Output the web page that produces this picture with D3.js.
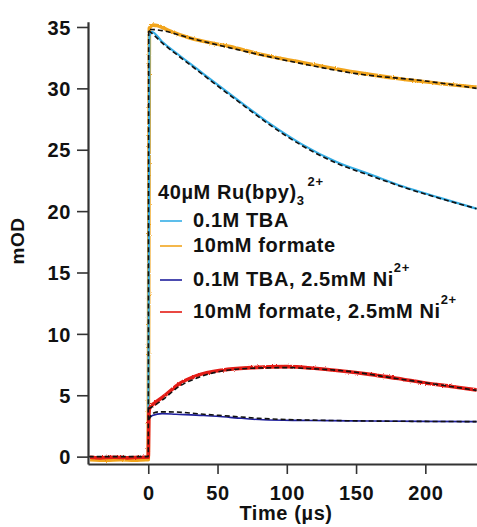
<!DOCTYPE html>
<html>
<head>
<meta charset="utf-8">
<script src="https://cdn.jsdelivr.net/npm/d3@7/dist/d3.min.js"></script>
<style>
  html, body { margin: 0; padding: 0; background: #fff; }
  svg { display: block; }
  text { font-family: "Liberation Sans", Arial, Helvetica, sans-serif; font-weight: bold; fill: #111; letter-spacing: 0.6px; }
</style>
</head>
<body>
<svg id="chart" width="477" height="527"></svg>
<script>
// Transient absorption of 40 µM Ru(bpy)3 2+ — time in µs, signal in mOD.

// 0.1M TBA
const tbaTime  = [0, 0.8, 2.5, 10, 20, 35, 50, 70, 88, 110, 136, 160, 184, 210, 237];
const tbaValue = [0, 34.2, 34.6, 33.8, 32.9, 31.6, 30.3, 28.6, 27.1, 25.5, 24.0, 23.0, 22.0, 21.1, 20.2];

// 10mM formate
const formateTime  = [-42, -30, -20, -10, -1, 0, 0.8, 3.5, 7, 15, 30, 59, 80, 107, 130, 150, 180, 210, 237];
const formateValue = [-0.25, -0.3, -0.25, -0.3, -0.25, -0.25, 34.9, 35.15, 35.1, 34.7, 34.1, 33.4, 32.8, 32.2, 31.7, 31.3, 30.8, 30.4, 30.1];

// 0.1M TBA, 2.5mM Ni2+
const tbaNiTime  = [0, 0.5, 3, 10, 20, 40, 59, 83, 110, 131, 160, 200, 237];
const tbaNiValue = [2.6, 3.05, 3.35, 3.5, 3.45, 3.35, 3.2, 3.0, 2.95, 2.93, 2.9, 2.87, 2.85];

// 10mM formate, 2.5mM Ni2+
const formateNiTime  = [-42, -35, -25, -15, -5, 0, 0.5, 1, 5, 11, 23, 35, 54, 75, 100, 120, 138, 160, 179, 200, 220, 237];
const formateNiValue = [-0.05, -0.1, -0.05, -0.1, -0.05, -0.05, 3.5, 3.94, 4.4, 4.9, 5.98, 6.6, 7.06, 7.25, 7.33, 7.2, 7.0, 6.7, 6.38, 6.0, 5.7, 5.43];

// Kinetic fits (dashed)
const fitFormateTime  = [-43, 0, 0.3, 2, 10, 30, 59, 107, 150, 200, 237];
const fitFormateValue = [0, 0, 34.8, 34.8, 34.7, 34.1, 33.3, 32.1, 31.2, 30.6, 30.0];
const fitTbaTime  = [0.3, 2.5, 10, 20, 35, 50, 70, 88, 110, 136, 160, 184, 210, 237];
const fitTbaValue = [34.7, 34.5, 33.7, 32.8, 31.5, 30.2, 28.5, 27.0, 25.4, 23.9, 22.9, 21.95, 21.05, 20.2];
const fitTbaNiTime  = [0.3, 3, 8, 15, 25, 40, 59, 80, 100, 130, 160, 200, 237];
const fitTbaNiValue = [3.0, 3.5, 3.65, 3.65, 3.6, 3.45, 3.3, 3.12, 3.02, 2.95, 2.9, 2.87, 2.85];
const fitFormateNiTime  = [0.3, 2, 10, 22, 35, 50, 75, 100, 120, 140, 180, 237];
const fitFormateNiValue = [3.9, 4.0, 4.6, 5.7, 6.4, 6.9, 7.2, 7.25, 7.15, 7.0, 6.35, 5.4];

// Axis ticks
const xTicks = [0, 50, 100, 150, 200];
const yTicks = [0, 5, 10, 15, 20, 25, 30, 35];

// Legend entries
const legendTitle = { main: "40µM Ru(bpy)", sub: "3", sup: "2+" };
const legendItems = [
  { label: "0.1M TBA", sup: "", color: "#35aee6" },
  { label: "10mM formate", sup: "", color: "#f2a51e" },
  { label: "0.1M TBA, 2.5mM Ni", sup: "2+", color: "#1f1f9c" },
  { label: "10mM formate, 2.5mM Ni", sup: "2+", color: "#e41a13" }
];

const svg = d3.select("#chart");
const W = 477, H = 527;
const margin = { top: 21.7, right: 0, bottom: 63, left: 88 };

const x = d3.scaleLinear().domain([-43.5, 237.3]).range([margin.left, W - margin.right]);
const y = d3.scaleLinear().domain([-0.6, 35.43]).range([H - margin.bottom, margin.top]);

const zip = (ts, vs) => ts.map((t, i) => [t, vs[i]]);
const line = d3.line().x(d => x(d[0])).y(d => y(d[1])).curve(d3.curveMonotoneX);

// Ragged edge for the noisier single-shot traces
const defs = svg.append("defs");
const rough = defs.append("filter").attr("id", "rough")
  .attr("x", "-5%").attr("y", "-5%").attr("width", "110%").attr("height", "110%");
rough.append("feTurbulence").attr("type", "fractalNoise")
  .attr("baseFrequency", "0.9").attr("numOctaves", 1).attr("seed", 3).attr("result", "n");
rough.append("feDisplacementMap").attr("in", "SourceGraphic").attr("in2", "n")
  .attr("scale", 2.5).attr("xChannelSelector", "R").attr("yChannelSelector", "G");

const plot = svg.append("g");

// Measured traces
const traces = [
  { data: zip(formateTime, formateValue), color: legendItems[1].color, width: 3.6, rough: true },
  { data: zip(tbaTime, tbaValue), color: legendItems[0].color, width: 2.2, rough: false },
  { data: zip(tbaNiTime, tbaNiValue), color: legendItems[2].color, width: 1.6, rough: false },
  { data: zip(formateNiTime, formateNiValue), color: legendItems[3].color, width: 3.6, rough: true }
];
plot.selectAll("path.trace").data(traces).join("path")
  .attr("class", "trace")
  .attr("d", d => line(d.data))
  .attr("fill", "none")
  .attr("stroke", d => d.color)
  .attr("stroke-width", d => d.width)
  .attr("stroke-linejoin", "round")
  .attr("filter", d => d.rough ? "url(#rough)" : null);

// Fits
const fits = [
  zip(fitFormateTime, fitFormateValue),
  zip(fitTbaTime, fitTbaValue),
  zip(fitTbaNiTime, fitTbaNiValue),
  zip(fitFormateNiTime, fitFormateNiValue)
];
plot.selectAll("path.fit").data(fits).join("path")
  .attr("class", "fit")
  .attr("d", d => line(d))
  .attr("fill", "none")
  .attr("stroke", "#111")
  .attr("stroke-width", 1.6)
  .attr("stroke-dasharray", "5,3");

// Axes
const axisColor = "#333";
const xAxis = d3.axisBottom(x).tickValues(xTicks).tickSize(10).tickSizeOuter(0).tickPadding(12);
const yAxis = d3.axisLeft(y).tickValues(yTicks).tickSize(11).tickSizeOuter(0).tickPadding(6);

const gx = svg.append("g").attr("transform", `translate(0,${H - margin.bottom})`).call(xAxis);
const gy = svg.append("g").attr("transform", `translate(${margin.left},0)`).call(yAxis);
[gx, gy].forEach(g => {
  g.select(".domain").attr("stroke", axisColor).attr("stroke-width", 2.2);
  g.selectAll(".tick line").attr("stroke", axisColor).attr("stroke-width", 1.6);
  g.selectAll(".tick text")
    .attr("fill", "#111")
    .style("font-family", '"Liberation Sans", Arial, sans-serif')
    .style("font-weight", "bold")
    .style("font-size", "20px");
});
gx.selectAll(".tick text").attr("dy", "0.71em");
gy.selectAll(".tick text").attr("dy", "0.36em");

// Axis titles
svg.append("text")
  .attr("x", 286).attr("y", 520)
  .attr("text-anchor", "middle")
  .style("font-size", "20px")
  .text("Time (µs)");

svg.append("text")
  .attr("transform", "translate(24,241) rotate(-90)")
  .attr("text-anchor", "middle")
  .style("font-size", "19px")
  .text("mOD");

// Legend
const legend = svg.append("g");
const title = legend.append("text").attr("x", 158).attr("y", 199).style("font-size", "20px");
title.append("tspan").text(legendTitle.main);
title.append("tspan").attr("dy", 6).style("font-size", "13px").text(legendTitle.sub);
title.append("tspan").attr("dx", 3).attr("dy", -19).style("font-size", "13px").text(legendTitle.sup);

const itemBaselines = [227, 252, 286, 318];
legendItems.forEach((d, i) => {
  const by = itemBaselines[i];
  legend.append("line")
    .attr("x1", 160).attr("x2", 182)
    .attr("y1", by - 6).attr("y2", by - 6)
    .attr("stroke", d.color).attr("stroke-width", 1.6);
  const t = legend.append("text").attr("x", 193).attr("y", by).style("font-size", "20px");
  t.append("tspan").text(d.label);
  if (d.sup) t.append("tspan").attr("dy", -14).style("font-size", "13px").text(d.sup);
});
</script>
</body>
</html>
